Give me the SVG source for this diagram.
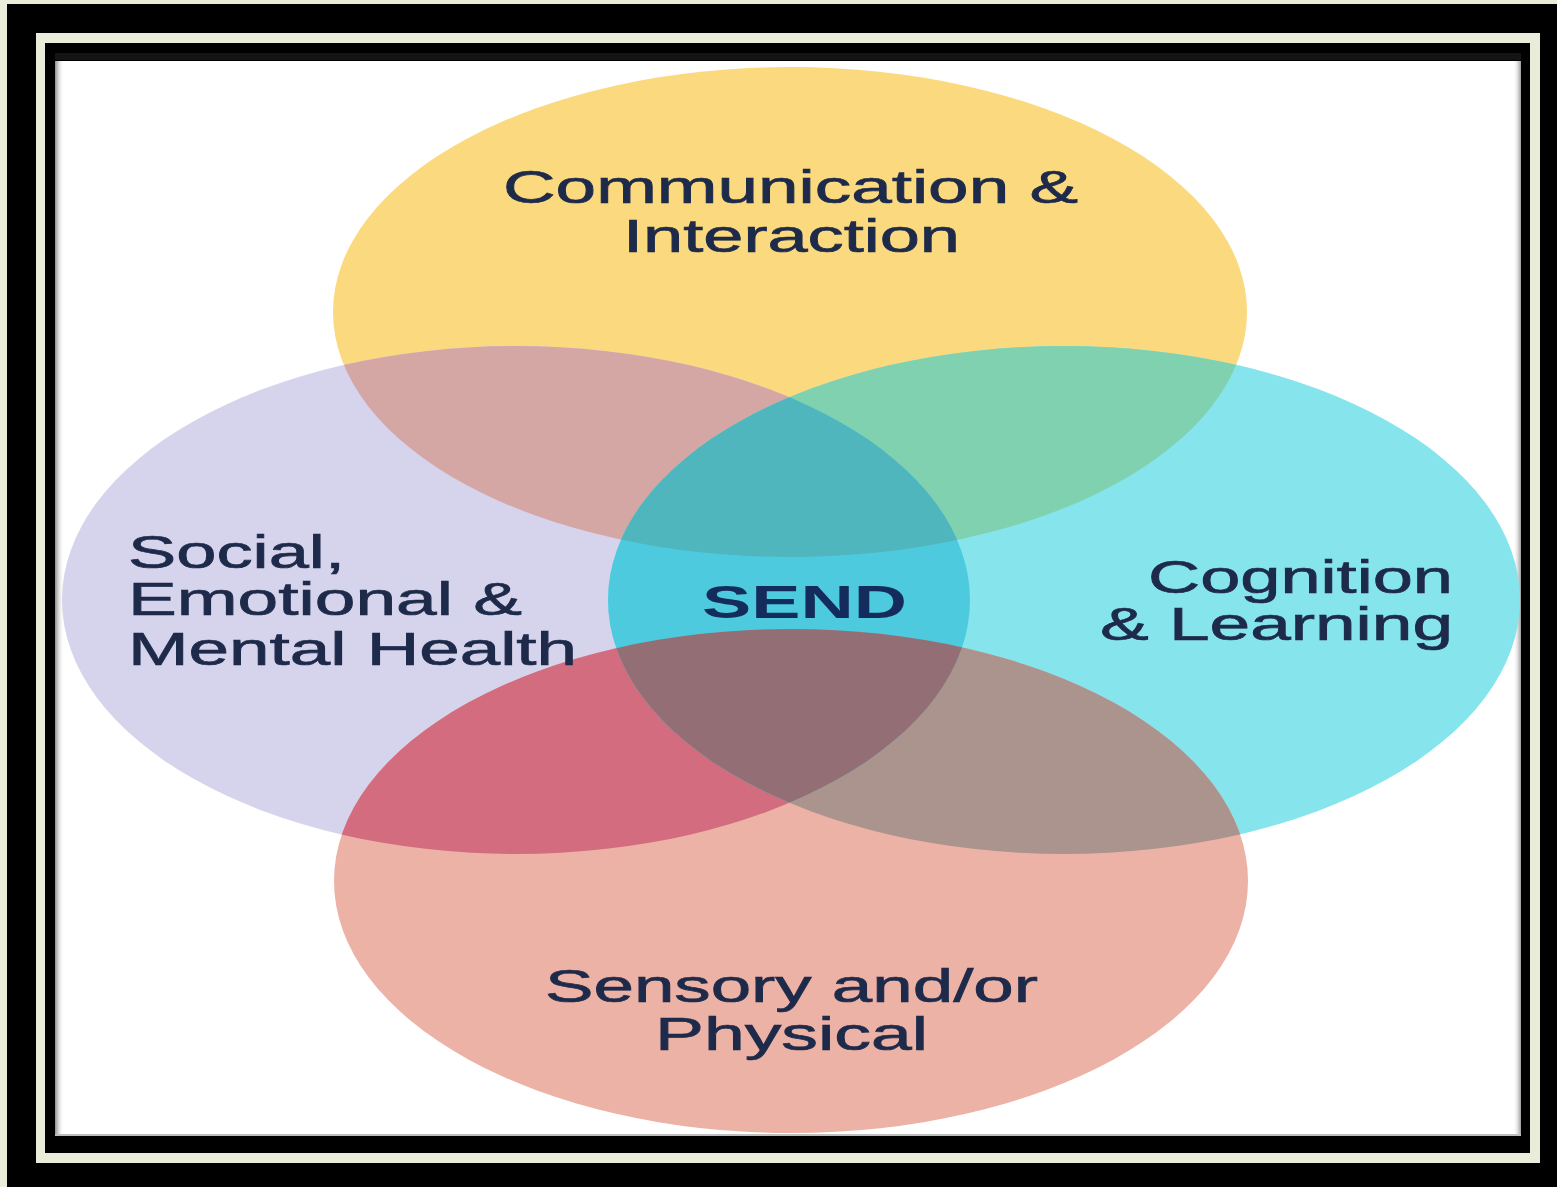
<svg xmlns="http://www.w3.org/2000/svg" xmlns:xlink="http://www.w3.org/1999/xlink" width="1557" height="1187" viewBox="0 0 1557 1187">
<style>
.lbl{font-family:"Liberation Sans",Arial,sans-serif;font-size:46px;fill:#1e2a4a;stroke:#1e2a4a;stroke-width:0.7px}
.send{font-family:"Liberation Sans",Arial,sans-serif;font-size:46px;font-weight:bold;fill:#142c5c}
</style>
<defs>
<ellipse id="eY" cx="790" cy="312" rx="457" ry="245"/>
<ellipse id="eL" cx="516" cy="600" rx="454" ry="254"/>
<ellipse id="eC" cx="1064" cy="600" rx="456" ry="254"/>
<ellipse id="eS" cx="791" cy="881" rx="457" ry="252"/>
<clipPath id="cY"><use xlink:href="#eY"/></clipPath>
<clipPath id="cL"><use xlink:href="#eL"/></clipPath>
<clipPath id="cC"><use xlink:href="#eC"/></clipPath>
<clipPath id="cS"><use xlink:href="#eS"/></clipPath>
<linearGradient id="shL" x1="0" x2="1" y1="0" y2="0">
<stop offset="0" stop-color="#8a8a8a"/><stop offset="1" stop-color="#ffffff" stop-opacity="0"/>
</linearGradient>
<linearGradient id="shR" x1="1" x2="0" y1="0" y2="0">
<stop offset="0" stop-color="#9a9a9a"/><stop offset="1" stop-color="#ffffff" stop-opacity="0"/>
</linearGradient>
</defs>

<g id="frame">
<rect x="0" y="0" width="1557" height="1187" fill="#e8ecd8"/>
<rect x="7" y="4" width="1550" height="1183" fill="#000"/>
<rect x="36" y="33" width="1504" height="1130" fill="#e8ecd8"/>
<rect x="45" y="43" width="1485" height="1110" fill="#000"/>
<rect x="55" y="53" width="1466" height="7" fill="#141414"/>
<rect x="55" y="61" width="1466" height="1075" fill="#fff"/>
<rect x="55" y="61" width="9" height="1075" fill="url(#shL)"/>
<rect x="1513" y="61" width="8" height="1075" fill="url(#shR)"/>
<rect x="55" y="1134" width="1466" height="2" fill="#bdbdbd"/>
</g>

<g id="node-communication">
<use xlink:href="#eY" fill="#fbd97e"/>
</g>
<g id="node-social">
<use xlink:href="#eL" fill="#d6d3ec"/>
</g>
<g id="node-cognition">
<use xlink:href="#eC" fill="#86e4ec"/>
</g>
<g id="node-sensory">
<use xlink:href="#eS" fill="#ecb2a6"/>
</g>

<g id="overlaps">
<g clip-path="url(#cY)"><use xlink:href="#eL" fill="#d4a7a4"/></g>
<g clip-path="url(#cY)"><use xlink:href="#eC" fill="#80d1b0"/></g>
<g clip-path="url(#cS)"><use xlink:href="#eL" fill="#d26c7e"/></g>
<g clip-path="url(#cS)"><use xlink:href="#eC" fill="#ac948e"/></g>
<g clip-path="url(#cL)"><use xlink:href="#eC" fill="#4ecadf"/></g>
<g clip-path="url(#cY)"><g clip-path="url(#cL)"><use xlink:href="#eC" fill="#4fb6be"/></g></g>
<g clip-path="url(#cS)"><g clip-path="url(#cL)"><use xlink:href="#eC" fill="#936f75"/></g></g>
</g>

<g id="labels">
<text class="lbl" x="503" y="203" textLength="575" lengthAdjust="spacingAndGlyphs">Communication &amp;</text>
<text class="lbl" x="623" y="252" textLength="337" lengthAdjust="spacingAndGlyphs">Interaction</text>
<text class="lbl" x="128" y="568" textLength="217" lengthAdjust="spacingAndGlyphs">Social,</text>
<text class="lbl" x="128" y="615" textLength="394" lengthAdjust="spacingAndGlyphs">Emotional &amp;</text>
<text class="lbl" x="128" y="665" textLength="449" lengthAdjust="spacingAndGlyphs">Mental Health</text>
<text class="send" x="702" y="618" textLength="205" lengthAdjust="spacingAndGlyphs">SEND</text>
<text class="lbl" x="1148" y="593" textLength="305" lengthAdjust="spacingAndGlyphs">Cognition</text>
<text class="lbl" x="1100" y="640" textLength="353" lengthAdjust="spacingAndGlyphs">&amp; Learning</text>
<text class="lbl" x="545" y="1002" textLength="493" lengthAdjust="spacingAndGlyphs">Sensory and/or</text>
<text class="lbl" x="655" y="1050" textLength="273" lengthAdjust="spacingAndGlyphs">Physical</text>
</g>
</svg>
